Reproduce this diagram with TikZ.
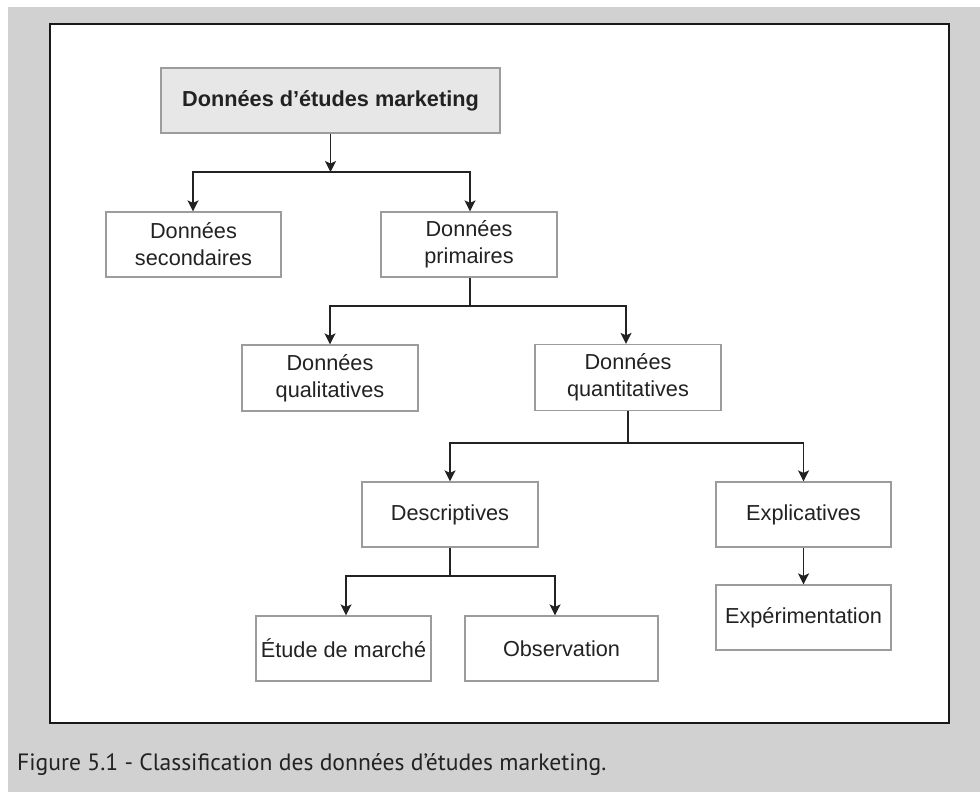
\documentclass[tikz,border=0pt]{standalone}
\usepackage{fontspec}
\setmainfont{Liberation Sans}
\newfontfamily\capfont{PT Sans}
\usetikzlibrary{arrows.meta,calc}
\definecolor{bggray}{HTML}{D1D1D1}
\definecolor{boxline}{HTML}{9C9C9C}
\definecolor{topfill}{HTML}{E7E7E8}
\definecolor{inkc}{HTML}{222222}
\tikzset{
  box/.style={draw=boxline, line width=1.2pt, fill=white, text=inkc,
    align=center, inner sep=0pt, minimum height=65pt,
    font=\fontsize{21.7}{27}\selectfont},
  conn/.style={draw=inkc, line width=1.4pt},
  arr/.style={conn, -{Stealth[length=11pt,width=11pt,inset=2.5pt]}},
}
\begin{document}
\begin{tikzpicture}[x=1pt,y=-1pt]
\useasboundingbox (0,0) rectangle (980,792);
\fill[bggray] (8,7) rectangle (980,792);
\draw[fill=white, draw=black!90, line width=2.6pt] (50,24) rectangle (949,723);

\node[box, fill=topfill, minimum width=339pt, font=\bfseries\fontsize{21.7}{27}\selectfont] (top) at (330.5,100.5) {Données d’études marketing};
\node[box, minimum width=175pt] (sec) at (193.5,244.5) {Données\\secondaires};
\node[box, minimum width=176pt] (prim) at (469,244.5) {Données\\primaires};
\node[box, minimum width=176pt, minimum height=66pt] (qual) at (330,378) {Données\\qualitatives};
\node[box, minimum width=186pt, minimum height=66pt] (quant) at (628,377.5) {Données\\quantitatives};
\node[box, minimum width=176pt] (desc) at (450,514.5) {Descriptives};
\node[box, minimum width=175pt] (expl) at (803.5,514.5) {Explicatives};
\node[box, minimum width=175pt] (expe) at (803.5,617.5) {Expérimentation};
\node[box, minimum width=175pt] (etude) at (343.5,648.5) {Étude de marché};
\node[box, minimum width=193pt] (obs) at (561.5,648.5) {Observation};

\coordinate (j1) at (330.5,172);
\coordinate (j2) at (470,306);
\coordinate (j3) at (628,443);
\coordinate (j4) at (450,576);

\draw[arr] (top.south) -- (j1);
\draw[arr] (j1) -| ([xshift=-0.5pt]sec.north);
\draw[arr] (j1) -| ([xshift=1pt]prim.north);

\draw[conn] ([xshift=1pt]prim.south) -- (j2);
\draw[arr] (j2) -| (qual.north);
\draw[arr] (j2) -| ([xshift=-2pt]quant.north);

\draw[conn] (quant.south) -- (j3);
\draw[arr] (j3) -| (desc.north);
\draw[arr] (j3) -| (expl.north);

\draw[conn] (desc.south) -- (j4);
\draw[arr] (j4) -| ([xshift=2.5pt]etude.north);
\draw[arr] (j4) -| ([xshift=-6.5pt]obs.north);

\draw[arr] (expl.south) -- (expe.north);

\node[anchor=base west, inner sep=0pt, text=inkc, font=\capfont\fontsize{23.6}{27}\selectfont] (cap) at (17,770) {Figure 5.1 - Classification des données d’études marketing.};
\end{tikzpicture}
\end{document}
